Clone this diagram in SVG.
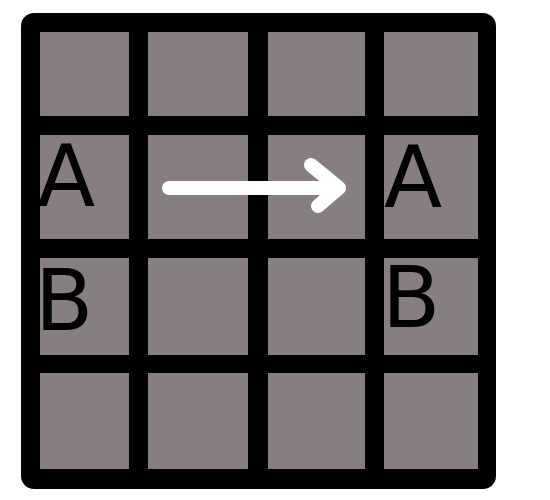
<svg xmlns="http://www.w3.org/2000/svg" width="550" height="500" viewBox="0 0 550 500">
  <defs>
    <style>
      .cell { fill: #867e80; }
      .lbl { font-family: "DejaVu Sans", sans-serif; font-size: 85px; fill: #000; }
      .arrow { fill: none; stroke: #ffffff; stroke-width: 14; stroke-linecap: round; stroke-linejoin: round; }
    </style>
  </defs>
  <rect width="550" height="500" fill="#ffffff"/>
  <g id="board">
    <rect x="21" y="13" width="475" height="476" rx="13" fill="#000"/>
  </g>
  <g id="row1">
    <rect class="cell" x="40" y="32" width="89" height="84"/>
    <rect class="cell" x="148" y="32" width="100" height="84"/>
    <rect class="cell" x="268" y="32" width="97" height="84"/>
    <rect class="cell" x="384" y="32" width="94" height="84"/>
  </g>
  <g id="row2">
    <rect class="cell" x="40" y="135" width="89" height="104"/>
    <rect class="cell" x="148" y="135" width="100" height="104"/>
    <rect class="cell" x="268" y="135" width="97" height="104"/>
    <rect class="cell" x="384" y="135" width="94" height="104"/>
  </g>
  <g id="row3">
    <rect class="cell" x="40" y="258" width="89" height="97"/>
    <rect class="cell" x="148" y="258" width="100" height="97"/>
    <rect class="cell" x="268" y="258" width="97" height="97"/>
    <rect class="cell" x="384" y="258" width="94" height="97"/>
  </g>
  <g id="row4">
    <rect class="cell" x="40" y="373" width="89" height="96"/>
    <rect class="cell" x="148" y="373" width="100" height="96"/>
    <rect class="cell" x="268" y="373" width="97" height="96"/>
    <rect class="cell" x="384" y="373" width="94" height="96"/>
  </g>
  <g id="labels">
    <text class="lbl" x="37" y="206">A</text>
    <text class="lbl" x="35" y="330">B</text>
    <text class="lbl" x="384" y="207">A</text>
    <text class="lbl" x="382" y="327">B</text>
  </g>
  <g id="connectors">
    <path class="arrow" d="M169 188 L339 188 M311 165 L339 188 L318 206"/>
  </g>
</svg>
